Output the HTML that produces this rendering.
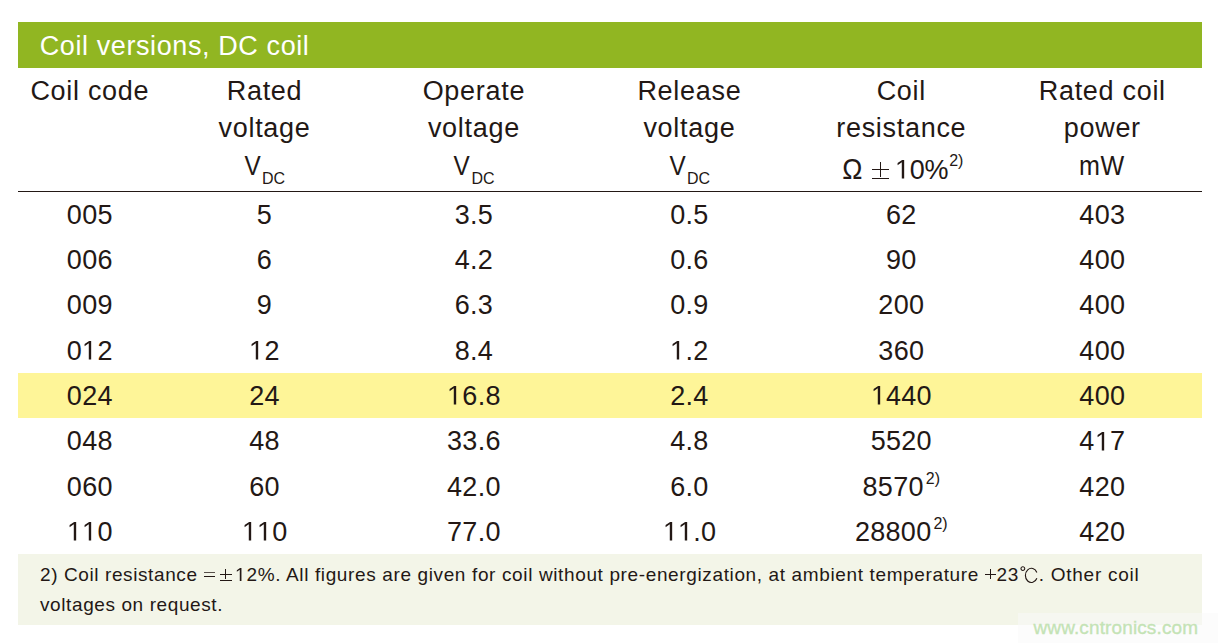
<!DOCTYPE html>
<html><head><meta charset="utf-8">
<style>
html,body{margin:0;padding:0;background:#fff;width:1218px;height:643px;overflow:hidden;position:relative;}
body{font-family:"Liberation Sans",sans-serif;color:#231815;}
.t{position:absolute;width:400px;text-align:center;white-space:nowrap;line-height:normal;}
.a{position:absolute;white-space:nowrap;line-height:normal;}
.r{position:absolute;}
.one{display:inline-block;position:relative;width:0.5562em;height:0;}
.one svg{position:absolute;left:0;bottom:0;width:0.5562em;height:0.688em;fill:#231815;overflow:visible;}
.sub{font-size:16px;letter-spacing:0;position:relative;top:8.5px;margin-left:-0.5px;}
.sup{font-size:16px;letter-spacing:0;position:relative;top:-12px;margin-left:2px;}
#green{position:absolute;left:18px;top:22px;width:1184px;height:46px;background:#91b622;}
#rule{position:absolute;left:18px;top:191px;width:1184px;height:1px;background:#231815;}
#yellow{position:absolute;left:18px;top:373px;width:1184px;height:45px;background:#fef598;}
#foot{position:absolute;left:18px;top:554px;width:1184px;height:71px;background:#f3f5e8;}
#wm{position:absolute;left:1018px;top:613px;width:200px;height:30px;background:rgba(250,250,250,0.5);}
#wmt{position:absolute;left:1033.5px;top:616.5px;font-size:19px;letter-spacing:0.12px;color:#c4e3b5;white-space:nowrap;line-height:normal;-webkit-text-stroke:0.35px #c4e3b5;}
</style></head><body>
<div id="green"></div>
<div id="yellow"></div>
<div id="rule"></div>
<div id="foot"></div>
<div class="a" style="left:39.7px;top:30.6px;font-size:27px;letter-spacing:0.6px;color:#fff;">Coil versions, DC coil</div>
<div class="t" style="left:-110.2px;top:75.7px;font-size:27px;letter-spacing:0.7px;">Coil code</div>
<div class="t" style="left:64.5px;top:75.7px;font-size:27px;letter-spacing:0.7px;">Rated</div>
<div class="t" style="left:64.5px;top:113.0px;font-size:27px;letter-spacing:0.7px;">voltage</div>
<div class="t" style="left:64.5px;top:151.0px;font-size:27px;letter-spacing:0.7px;"><span style="display:inline-block;transform:scaleX(0.9);transform-origin:30% 50%">V</span><span class="sub">DC</span></div>
<div class="t" style="left:273.9px;top:75.7px;font-size:27px;letter-spacing:0.7px;">Operate</div>
<div class="t" style="left:273.9px;top:113.0px;font-size:27px;letter-spacing:0.7px;">voltage</div>
<div class="t" style="left:273.9px;top:151.0px;font-size:27px;letter-spacing:0.7px;"><span style="display:inline-block;transform:scaleX(0.9);transform-origin:30% 50%">V</span><span class="sub">DC</span></div>
<div class="t" style="left:489.4px;top:75.7px;font-size:27px;letter-spacing:0.7px;">Release</div>
<div class="t" style="left:489.4px;top:113.0px;font-size:27px;letter-spacing:0.7px;">voltage</div>
<div class="t" style="left:489.4px;top:151.0px;font-size:27px;letter-spacing:0.7px;"><span style="display:inline-block;transform:scaleX(0.9);transform-origin:30% 50%">V</span><span class="sub">DC</span></div>
<div class="t" style="left:701.3px;top:75.7px;font-size:27px;letter-spacing:0.7px;">Coil</div>
<div class="t" style="left:701.3px;top:113.0px;font-size:27px;letter-spacing:0.7px;">resistance</div>
<div class="t" style="left:902.3px;top:75.7px;font-size:27px;letter-spacing:0.7px;">Rated coil</div>
<div class="t" style="left:902.3px;top:113.0px;font-size:27px;letter-spacing:0.7px;">power</div>
<div class="t" style="left:902.3px;top:151.0px;font-size:27px;letter-spacing:0.7px;transform:scaleX(0.93);transform-origin:50% 50%;">mW</div>
<div class="a" style="left:842.3px;top:154.8px;font-size:27px;letter-spacing:0px;transform:scaleY(1.06);transform-origin:0 24px;">Ω</div>
<div class="r" style="left:871.5px;top:169px;width:17px;height:1.2px;background:#231815;"></div>
<div class="r" style="left:879.5px;top:162px;width:1.2px;height:15px;background:#231815;"></div>
<div class="r" style="left:871.5px;top:178px;width:17px;height:1.2px;background:#231815;"></div>
<div class="a" style="left:895.0px;top:154.8px;font-size:27px;letter-spacing:-0.3px;"><span class="one" style="margin-right:-0.3px"><svg viewBox="0 0 1139 1409" preserveAspectRatio="none"><path d="M515 1409L696 1409L696 0L540 0L197 232L197 392L515 178Z"/></svg></span>0%</div>
<div class="a" style="left:949.2px;top:151.5px;font-size:16px;letter-spacing:0px;">2)</div>
<div class="t" style="left:-110.2px;top:199.7px;font-size:27px;letter-spacing:0.3px;">005</div>
<div class="t" style="left:64.5px;top:199.7px;font-size:27px;letter-spacing:0.3px;">5</div>
<div class="t" style="left:273.9px;top:199.7px;font-size:27px;letter-spacing:0.3px;">3.5</div>
<div class="t" style="left:489.4px;top:199.7px;font-size:27px;letter-spacing:0.3px;">0.5</div>
<div class="t" style="left:701.3px;top:199.7px;font-size:27px;letter-spacing:0.3px;">62</div>
<div class="t" style="left:902.3px;top:199.7px;font-size:27px;letter-spacing:0.3px;">403</div>
<div class="t" style="left:-110.2px;top:245.0px;font-size:27px;letter-spacing:0.3px;">006</div>
<div class="t" style="left:64.5px;top:245.0px;font-size:27px;letter-spacing:0.3px;">6</div>
<div class="t" style="left:273.9px;top:245.0px;font-size:27px;letter-spacing:0.3px;">4.2</div>
<div class="t" style="left:489.4px;top:245.0px;font-size:27px;letter-spacing:0.3px;">0.6</div>
<div class="t" style="left:701.3px;top:245.0px;font-size:27px;letter-spacing:0.3px;">90</div>
<div class="t" style="left:902.3px;top:245.0px;font-size:27px;letter-spacing:0.3px;">400</div>
<div class="t" style="left:-110.2px;top:290.3px;font-size:27px;letter-spacing:0.3px;">009</div>
<div class="t" style="left:64.5px;top:290.3px;font-size:27px;letter-spacing:0.3px;">9</div>
<div class="t" style="left:273.9px;top:290.3px;font-size:27px;letter-spacing:0.3px;">6.3</div>
<div class="t" style="left:489.4px;top:290.3px;font-size:27px;letter-spacing:0.3px;">0.9</div>
<div class="t" style="left:701.3px;top:290.3px;font-size:27px;letter-spacing:0.3px;">200</div>
<div class="t" style="left:902.3px;top:290.3px;font-size:27px;letter-spacing:0.3px;">400</div>
<div class="t" style="left:-110.2px;top:335.6px;font-size:27px;letter-spacing:0.3px;">0<span class="one" style="margin-right:0.3px"><svg viewBox="0 0 1139 1409" preserveAspectRatio="none"><path d="M515 1409L696 1409L696 0L540 0L197 232L197 392L515 178Z"/></svg></span>2</div>
<div class="t" style="left:64.5px;top:335.6px;font-size:27px;letter-spacing:0.3px;"><span class="one" style="margin-right:0.3px"><svg viewBox="0 0 1139 1409" preserveAspectRatio="none"><path d="M515 1409L696 1409L696 0L540 0L197 232L197 392L515 178Z"/></svg></span>2</div>
<div class="t" style="left:273.9px;top:335.6px;font-size:27px;letter-spacing:0.3px;">8.4</div>
<div class="t" style="left:489.4px;top:335.6px;font-size:27px;letter-spacing:0.3px;"><span class="one" style="margin-right:0.3px"><svg viewBox="0 0 1139 1409" preserveAspectRatio="none"><path d="M515 1409L696 1409L696 0L540 0L197 232L197 392L515 178Z"/></svg></span>.2</div>
<div class="t" style="left:701.3px;top:335.6px;font-size:27px;letter-spacing:0.3px;">360</div>
<div class="t" style="left:902.3px;top:335.6px;font-size:27px;letter-spacing:0.3px;">400</div>
<div class="t" style="left:-110.2px;top:380.9px;font-size:27px;letter-spacing:0.3px;">024</div>
<div class="t" style="left:64.5px;top:380.9px;font-size:27px;letter-spacing:0.3px;">24</div>
<div class="t" style="left:273.9px;top:380.9px;font-size:27px;letter-spacing:0.3px;"><span class="one" style="margin-right:0.3px"><svg viewBox="0 0 1139 1409" preserveAspectRatio="none"><path d="M515 1409L696 1409L696 0L540 0L197 232L197 392L515 178Z"/></svg></span>6.8</div>
<div class="t" style="left:489.4px;top:380.9px;font-size:27px;letter-spacing:0.3px;">2.4</div>
<div class="t" style="left:701.3px;top:380.9px;font-size:27px;letter-spacing:0.3px;"><span class="one" style="margin-right:0.3px"><svg viewBox="0 0 1139 1409" preserveAspectRatio="none"><path d="M515 1409L696 1409L696 0L540 0L197 232L197 392L515 178Z"/></svg></span>440</div>
<div class="t" style="left:902.3px;top:380.9px;font-size:27px;letter-spacing:0.3px;">400</div>
<div class="t" style="left:-110.2px;top:426.2px;font-size:27px;letter-spacing:0.3px;">048</div>
<div class="t" style="left:64.5px;top:426.2px;font-size:27px;letter-spacing:0.3px;">48</div>
<div class="t" style="left:273.9px;top:426.2px;font-size:27px;letter-spacing:0.3px;">33.6</div>
<div class="t" style="left:489.4px;top:426.2px;font-size:27px;letter-spacing:0.3px;">4.8</div>
<div class="t" style="left:701.3px;top:426.2px;font-size:27px;letter-spacing:0.3px;">5520</div>
<div class="t" style="left:902.3px;top:426.2px;font-size:27px;letter-spacing:0.3px;">4<span class="one" style="margin-right:0.3px"><svg viewBox="0 0 1139 1409" preserveAspectRatio="none"><path d="M515 1409L696 1409L696 0L540 0L197 232L197 392L515 178Z"/></svg></span>7</div>
<div class="t" style="left:-110.2px;top:471.5px;font-size:27px;letter-spacing:0.3px;">060</div>
<div class="t" style="left:64.5px;top:471.5px;font-size:27px;letter-spacing:0.3px;">60</div>
<div class="t" style="left:273.9px;top:471.5px;font-size:27px;letter-spacing:0.3px;">42.0</div>
<div class="t" style="left:489.4px;top:471.5px;font-size:27px;letter-spacing:0.3px;">6.0</div>
<div class="t" style="left:701.3px;top:471.5px;font-size:27px;letter-spacing:0.3px;">8570<span class="sup">2)</span></div>
<div class="t" style="left:902.3px;top:471.5px;font-size:27px;letter-spacing:0.3px;">420</div>
<div class="t" style="left:-110.2px;top:516.8px;font-size:27px;letter-spacing:0.3px;"><span class="one" style="margin-right:0.3px"><svg viewBox="0 0 1139 1409" preserveAspectRatio="none"><path d="M515 1409L696 1409L696 0L540 0L197 232L197 392L515 178Z"/></svg></span><span class="one" style="margin-right:0.3px"><svg viewBox="0 0 1139 1409" preserveAspectRatio="none"><path d="M515 1409L696 1409L696 0L540 0L197 232L197 392L515 178Z"/></svg></span>0</div>
<div class="t" style="left:64.5px;top:516.8px;font-size:27px;letter-spacing:0.3px;"><span class="one" style="margin-right:0.3px"><svg viewBox="0 0 1139 1409" preserveAspectRatio="none"><path d="M515 1409L696 1409L696 0L540 0L197 232L197 392L515 178Z"/></svg></span><span class="one" style="margin-right:0.3px"><svg viewBox="0 0 1139 1409" preserveAspectRatio="none"><path d="M515 1409L696 1409L696 0L540 0L197 232L197 392L515 178Z"/></svg></span>0</div>
<div class="t" style="left:273.9px;top:516.8px;font-size:27px;letter-spacing:0.3px;">77.0</div>
<div class="t" style="left:489.4px;top:516.8px;font-size:27px;letter-spacing:0.3px;"><span class="one" style="margin-right:0.3px"><svg viewBox="0 0 1139 1409" preserveAspectRatio="none"><path d="M515 1409L696 1409L696 0L540 0L197 232L197 392L515 178Z"/></svg></span><span class="one" style="margin-right:0.3px"><svg viewBox="0 0 1139 1409" preserveAspectRatio="none"><path d="M515 1409L696 1409L696 0L540 0L197 232L197 392L515 178Z"/></svg></span>.0</div>
<div class="t" style="left:701.3px;top:516.8px;font-size:27px;letter-spacing:0.3px;">28800<span class="sup">2)</span></div>
<div class="t" style="left:902.3px;top:516.8px;font-size:27px;letter-spacing:0.3px;">420</div>
<div class="a" style="left:40.0px;top:564.2px;font-size:19px;letter-spacing:0.6px;">2) Coil resistance</div>
<div class="r" style="left:204px;top:571.5px;width:11px;height:1.1px;background:#231815;opacity:0.75"></div>
<div class="r" style="left:204px;top:576px;width:11px;height:1.1px;background:#231815;"></div>
<div class="r" style="left:219.5px;top:574px;width:12px;height:1.1px;background:#231815;"></div>
<div class="r" style="left:225px;top:569px;width:1.1px;height:10px;background:#231815;"></div>
<div class="r" style="left:219.5px;top:580px;width:12px;height:1.1px;background:#231815;"></div>
<div class="a" style="left:235.3px;top:564.2px;font-size:19px;letter-spacing:0.63px;"><span class="one" style="margin-right:0.63px"><svg viewBox="0 0 1139 1409" preserveAspectRatio="none"><path d="M515 1409L696 1409L696 0L540 0L197 232L197 392L515 178Z"/></svg></span>2%. All figures are given for coil without pre-energization, at ambient temperature</div>
<div class="r" style="left:985px;top:574px;width:11px;height:1.1px;background:#231815;"></div>
<div class="r" style="left:990px;top:569px;width:1.1px;height:10px;background:#231815;"></div>
<div class="a" style="left:996.6px;top:564.2px;font-size:19px;letter-spacing:0.6px;">23</div>
<svg class="r" style="left:1019px;top:565px;width:22px;height:20px;overflow:visible" viewBox="0 0 22 20"><circle cx="3.85" cy="3.6" r="1.9" fill="none" stroke="#231815" stroke-width="1.05"/><path d="M17.86 7.5 A5.98 7.1 0 1 0 17.86 13.3" fill="none" stroke="#231815" stroke-width="1.15"/></svg>
<div class="a" style="left:1038.7px;top:564.2px;font-size:19px;letter-spacing:0.75px;">. Other coil</div>
<div class="a" style="left:40.0px;top:594.0px;font-size:19px;letter-spacing:0.6px;">voltages on request.</div>
<div id="wm"></div>
<div id="wmt">www.cntronics.com</div>
</body></html>
